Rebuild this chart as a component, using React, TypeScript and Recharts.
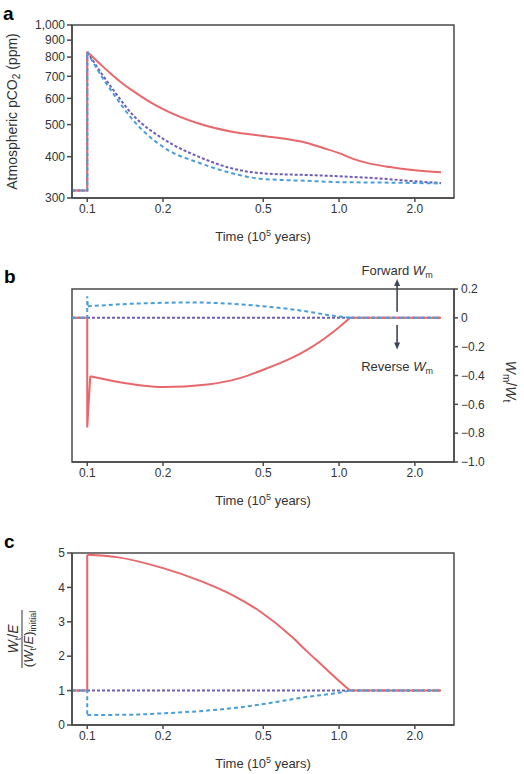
import { LineChart, Line, XAxis, YAxis, ReferenceLine, ReferenceArea } from "recharts";

// shared time axis (10^5 years, log scale)
const timeTicks = [0.1, 0.2, 0.5, 1.0, 2.0];
const timeDomain = [0.087, 2.86];

// panel a: atmospheric pCO2 (ppm)
const aRedTime = [0.087, 0.1, 0.1, 0.1126, 0.1234, 0.1377, 0.1523, 0.1778, 0.2, 0.281, 0.38, 0.5, 0.746, 0.864, 1.0, 1.137, 1.29, 1.59, 2.0, 2.54];
const aRedCO2 = [316, 316, 830, 762, 715, 667, 631, 585, 557, 502, 475, 462, 440, 425, 410, 394, 383, 372, 364, 359];
const aPurpleTime = [0.087, 0.1, 0.1, 0.1126, 0.127, 0.152, 0.2, 0.281, 0.379, 0.5, 0.75, 1.0, 1.5, 2.0, 2.54];
const aPurpleCO2 = [316, 316, 830, 723, 636, 534, 453, 398, 368, 356, 352, 349, 343, 337, 333];
const aBlueTime = [0.087, 0.1, 0.1, 0.1126, 0.127, 0.152, 0.2, 0.281, 0.379, 0.486, 0.75, 1.0, 1.5, 2.0, 2.54];
const aBlueCO2 = [316, 316, 830, 710, 620, 516, 428, 382, 356, 343, 338, 335, 334, 333, 332];
const aTicks = [300, 400, 500, 600, 700, 800, 900, 1000];

// panel b: Wm / Wt
const bRedTime = [0.087, 0.1, 0.1, 0.1028, 0.131, 0.2, 0.3, 0.4, 0.5, 0.646, 0.746, 0.864, 1.0, 1.106, 2.54];
const bRedW = [0, 0, -0.76, -0.405, -0.443, -0.48, -0.462, -0.42, -0.36, -0.28, -0.222, -0.15, -0.065, 0, 0];
const bBlueTime = [0.087, 0.1, 0.1, 0.1005, 0.152, 0.2, 0.25, 0.3, 0.4, 0.5, 0.6, 0.746, 0.9, 1.0, 1.106, 2.54];
const bBlueW = [0, 0, 0.15, 0.08, 0.098, 0.104, 0.107, 0.105, 0.094, 0.08, 0.066, 0.044, 0.02, 0.009, 0, 0];
const bPurpleTime = [0.087, 2.54];
const bPurpleW = [0, 0];
const bTicks = [-1, -0.8, -0.6, -0.4, -0.2, 0, 0.2];

// panel c: (Wt/E) / (Wt/E)initial
const cRedTime = [0.087, 0.1, 0.1, 0.131, 0.2, 0.281, 0.379, 0.486, 0.646, 0.746, 0.864, 1.0, 1.106, 2.54];
const cRedR = [1, 1, 4.95, 4.88, 4.56, 4.19, 3.77, 3.3, 2.58, 2.14, 1.71, 1.28, 1.0, 1.0];
const cBlueTime = [0.087, 0.1, 0.1, 0.15, 0.2, 0.3, 0.4, 0.5, 0.75, 1.0, 1.106, 2.54];
const cBlueR = [1, 1, 0.29, 0.3, 0.34, 0.42, 0.51, 0.61, 0.82, 0.94, 1.0, 1.0];
const cPurpleTime = [0.087, 2.54];
const cPurpleR = [1, 1];
const cTicks = [0, 1, 2, 3, 4, 5];

const RED = "#e8676b";
const BLUE = "#4a9ed8";
const PURPLE = "#6f5cb8";
const AXIS = "#4a4a4a";
const TEXT = "#333";

const zip = (t: number[], v: number[]) => t.map((x, i) => ({ t: x, v: v[i] }));

// one series drawn as: straight jump part, smooth curve part, straight tail
function trace(id: string, t: number[], v: number[], style: any, from: number, to = t.length - 1) {
  const pts = zip(t, v);
  const parts: [any[], string][] = [];
  if (from > 0) parts.push([pts.slice(0, from + 1), "linear"]);
  parts.push([pts.slice(from, to + 1), "monotone"]);
  if (to < pts.length - 1) parts.push([pts.slice(to), "linear"]);
  return parts.map(([d, type], i) => (
    <Line key={id + i} data={d} dataKey="v" type={type as any} dot={false} activeDot={false} isAnimationActive={false} strokeWidth={2} {...style} />
  ));
}

const redStyle = { stroke: RED };
const blueStyle = { stroke: BLUE, strokeDasharray: "4 3" };
const purpleStyle = { stroke: PURPLE, strokeDasharray: "3 2" };

const TimeLabel = ({ viewBox }: any) => (
  <text x={viewBox.x + viewBox.width / 2} y={viewBox.y + 43} textAnchor="middle" fontSize={13} fill={TEXT}>
    Time (10<tspan dy={-5} fontSize={9}>5</tspan>
    <tspan dy={5}> years)</tspan>
  </text>
);

const CO2Label = ({ viewBox }: any) => {
  const cx = 17;
  const cy = viewBox.y + viewBox.height / 2;
  return (
    <text x={cx} y={cy} transform={`rotate(-90 ${cx} ${cy})`} textAnchor="middle" fontSize={14} fill={TEXT}>
      Atmospheric pCO<tspan dy={3} fontSize={10}>2</tspan>
      <tspan dy={-3}> (ppm)</tspan>
    </text>
  );
};

const WmLabel = ({ viewBox }: any) => {
  const cx = viewBox.x + 52;
  const cy = viewBox.y + viewBox.height / 2 + 6;
  return (
    <text x={cx} y={cy} transform={`rotate(90 ${cx} ${cy})`} textAnchor="middle" fontSize={14} fill={TEXT}>
      <tspan fontStyle="italic">W</tspan>
      <tspan dy={3} fontSize={10}>m</tspan>
      <tspan dy={-3}>/</tspan>
      <tspan fontStyle="italic">W</tspan>
      <tspan dy={3} fontSize={10}>t</tspan>
    </text>
  );
};

const RatioLabel = ({ viewBox }: any) => {
  const cx = 22;
  const cy = viewBox.y + viewBox.height / 2;
  return (
    <g transform={`rotate(-90 ${cx} ${cy})`} fill={TEXT}>
      <text x={cx} y={cy - 4} textAnchor="middle" fontSize={14}>
        <tspan fontStyle="italic">W</tspan>
        <tspan dy={3} fontSize={9}>t</tspan>
        <tspan dy={-3}>/</tspan>
        <tspan fontStyle="italic">E</tspan>
      </text>
      <line x1={cx - 29} x2={cx + 29} y1={cy} y2={cy} stroke={TEXT} strokeWidth={1} />
      <text x={cx} y={cy + 11} textAnchor="middle" fontSize={13}>
        (<tspan fontStyle="italic">W</tspan>
        <tspan dy={3} fontSize={9}>t</tspan>
        <tspan dy={-3}>/</tspan>
        <tspan fontStyle="italic">E</tspan>)
        <tspan dy={3} fontSize={9}>initial</tspan>
      </text>
    </g>
  );
};

const arrow = (label: string, up: boolean) => (props: any) => {
  const { x1, y1, x2, y2 } = props;
  const d = up ? 1 : -1;
  const c = "#3b4656";
  return (
    <g>
      <line x1={x1} y1={y1} x2={x2} y2={y2 + d * 4} stroke={c} strokeWidth={1.6} />
      <polygon points={`${x2},${y2} ${x2 - 3},${y2 + d * 7} ${x2 + 3},${y2 + d * 7}`} fill={c} />
      <text x={x2} y={up ? y2 - 4 : y2 + 21} textAnchor="middle" fontSize={13} fill={TEXT}>
        {label} <tspan fontStyle="italic">W</tspan>
        <tspan dy={3} fontSize={9}>m</tspan>
      </text>
    </g>
  );
};

const xAxisProps = {
  dataKey: "t",
  type: "number" as const,
  scale: "log" as const,
  domain: timeDomain,
  ticks: timeTicks,
  interval: 0,
  allowDataOverflow: true,
  tickFormatter: (v: number) => v.toFixed(1),
  tick: { fontSize: 12, fill: TEXT },
  tickSize: 4,
  tickMargin: 2,
  stroke: AXIS,
  strokeWidth: 1.5,
};

const fmtSigned = (v: number) => (v === 0 ? "0" : v < 0 ? "\u2212" + Math.abs(v).toFixed(1) : v.toFixed(1));

export default function App() {
  return (
    <div style={{ position: "absolute", left: 0, top: 0, width: 524, height: 774, background: "#fff", fontFamily: "'Liberation Sans', Arial, sans-serif" }}>
      <div style={{ position: "absolute", left: 3, top: 4, fontSize: 19, fontWeight: "bold", lineHeight: 1 }}>a</div>
      <div style={{ position: "absolute", left: 4, top: 267, fontSize: 19, fontWeight: "bold", lineHeight: 1 }}>b</div>
      <div style={{ position: "absolute", left: 4, top: 532, fontSize: 19, fontWeight: "bold", lineHeight: 1 }}>c</div>

      <div style={{ position: "absolute", left: 0, top: 0 }}>
        <LineChart width={524} height={250} margin={{ top: 25, right: 70, bottom: 0, left: 0 }}>
          <XAxis {...xAxisProps} height={52} label={<TimeLabel />} />
          <YAxis
            type="number"
            scale="log"
            domain={[300, 1000]}
            ticks={aTicks}
            interval={0}
            allowDataOverflow
            width={72}
            tickFormatter={(v: number) => v.toLocaleString("en-US")}
            tick={{ fontSize: 12, fill: TEXT }}
            tickSize={5}
            tickMargin={2}
            stroke={AXIS}
            strokeWidth={1.5}
            label={<CO2Label />}
          />
          <ReferenceArea x1={0.087} x2={2.86} y1={300} y2={1000} fill="none" stroke={AXIS} strokeWidth={1.5} ifOverflow="visible" />
          {trace("ap", aPurpleTime, aPurpleCO2, purpleStyle, 2)}
          {trace("ar", aRedTime, aRedCO2, redStyle, 2)}
          {trace("ab", aBlueTime, aBlueCO2, blueStyle, 2)}
        </LineChart>
      </div>

      <div style={{ position: "absolute", left: 0, top: 250 }}>
        <LineChart width={524} height={270} margin={{ top: 39, right: 20, bottom: 0, left: 72 }}>
          <XAxis {...xAxisProps} height={58} label={<TimeLabel />} />
          <YAxis
            orientation="right"
            type="number"
            domain={[-1, 0.2]}
            ticks={bTicks}
            interval={0}
            allowDataOverflow
            width={50}
            tickFormatter={fmtSigned}
            tick={{ fontSize: 12, fill: TEXT, textAnchor: "start" }}
            tickSize={4}
            tickMargin={3}
            stroke={AXIS}
            strokeWidth={1.5}
            label={<WmLabel />}
          />
          <ReferenceArea x1={0.087} x2={2.86} y1={-1} y2={0.2} fill="none" stroke={AXIS} strokeWidth={1.5} ifOverflow="visible" />
          <Line data={zip(bPurpleTime, bPurpleW)} dataKey="v" type="linear" stroke={PURPLE} strokeWidth={2} strokeDasharray="3 2" dot={false} activeDot={false} isAnimationActive={false} />
          {trace("br", bRedTime, bRedW, redStyle, 3, 13)}
          {trace("bb", bBlueTime, bBlueW, blueStyle, 3, 14)}
          <ReferenceLine segment={[{ x: 1.7, y: 0.042 }, { x: 1.7, y: 0.27 }]} ifOverflow="visible" shape={arrow("Forward", true)} />
          <ReferenceLine segment={[{ x: 1.7, y: -0.05 }, { x: 1.7, y: -0.22 }]} ifOverflow="visible" shape={arrow("Reverse", false)} />
        </LineChart>
      </div>

      <div style={{ position: "absolute", left: 0, top: 520 }}>
        <LineChart width={524} height={254} margin={{ top: 33, right: 70, bottom: 0, left: 0 }}>
          <XAxis {...xAxisProps} height={49} label={<TimeLabel />} />
          <YAxis
            type="number"
            domain={[0, 5]}
            ticks={cTicks}
            interval={0}
            allowDataOverflow
            width={72}
            tick={{ fontSize: 12, fill: TEXT }}
            tickSize={5}
            tickMargin={2}
            stroke={AXIS}
            strokeWidth={1.5}
            label={<RatioLabel />}
          />
          <ReferenceArea x1={0.087} x2={2.86} y1={0} y2={5} fill="none" stroke={AXIS} strokeWidth={1.5} ifOverflow="visible" />
          <Line data={zip(cPurpleTime, cPurpleR)} dataKey="v" type="linear" stroke={PURPLE} strokeWidth={2} strokeDasharray="3 2" dot={false} activeDot={false} isAnimationActive={false} />
          {trace("cr", cRedTime, cRedR, redStyle, 2, 12)}
          {trace("cb", cBlueTime, cBlueR, blueStyle, 2, 10)}
        </LineChart>
      </div>
    </div>
  );
}
